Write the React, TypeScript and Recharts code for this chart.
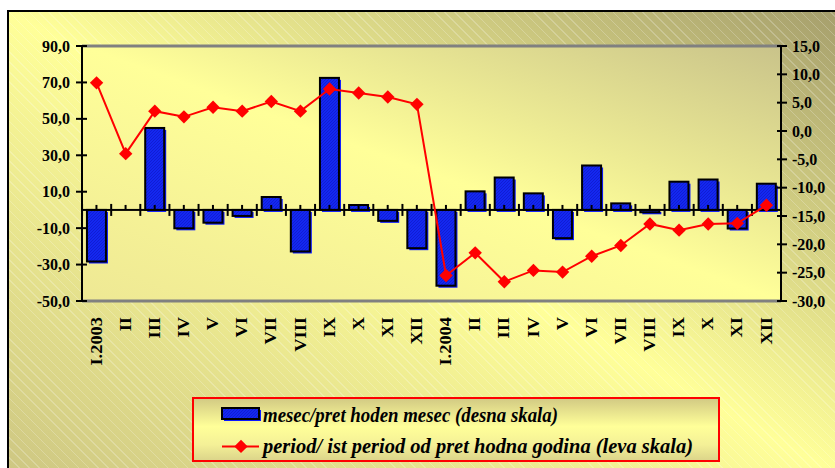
import {
  ComposedChart,
  Bar,
  Line,
  XAxis,
  YAxis,
  CartesianGrid,
  ReferenceLine,
} from "recharts";

/* ── data ── */
const months = [
  "I.2003", "II", "III", "IV", "V", "VI", "VII", "VIII", "IX", "X", "XI", "XII",
  "I.2004", "II", "III", "IV", "V", "VI", "VII", "VIII", "IX", "X", "XI", "XII",
];
// mesec / prethodni mesec
const monthOnMonth = [
  -28.3, 0, 45.0, -10.1, -7.0, -3.3, 7.1, -22.8, 72.5, 2.7, -6.0, -21.0,
  -41.6, 10.2, 17.8, 9.1, -15.5, 24.4, 3.6, -1.3, 15.5, 16.7, -10.2, 14.4,
];
// period / isti period prethodne godine
const periodOnPeriod = [
  8.5, -4.0, 3.5, 2.5, 4.2, 3.5, 5.2, 3.5, 7.4, 6.7, 6.0, 4.7,
  -25.5, -21.5, -26.6, -24.6, -24.9, -22.1, -20.2, -16.4, -17.5, -16.4, -16.3, -13.1,
];
const leftTicks = [-50, -30, -10, 10, 30, 50, 70, 90];
const rightTicks = [-30, -25, -20, -15, -10, -5, 0, 5, 10, 15];

const legendBars = "mesec/pret hoden mesec (desna skala)";
const legendLine = "period/ ist period od pret hodna godina (leva skala)";

const data = months.map((m, i) => ({
  label: m,
  mom: monthOnMonth[i],
  pop: periodOnPeriod[i],
}));

/* ── style ── */
const SERIF = "'Liberation Serif', 'Times New Roman', serif";
const GAP = 0.17;
const fmt = (v: number) => v.toFixed(1).replace(".", ",");

const BarShape = (p: any) => {
  const { x, y, width, height } = p;
  if (x == null || width == null) return null;
  const top = Math.min(y, y + height);
  const h = Math.abs(height || 0);
  const zeroY = y + (height || 0);
  const bandW = width / (1 - 2 * GAP);
  const bandX = x - GAP * bandW;
  const cx = x + width / 2;
  return (
    <g>
      {h > 0 && (
        <rect x={x + 2} y={top + 2} width={width} height={h} fill="#0a18ff" />
      )}
      {h > 0 && (
        <rect
          x={x}
          y={top}
          width={width}
          height={h}
          fill="url(#barFill)"
          stroke="#000"
          strokeWidth={2}
        />
      )}
      <line x1={bandX} x2={bandX + bandW} y1={zeroY} y2={zeroY} stroke="#000" strokeWidth={2} />
      <line x1={bandX} x2={bandX} y1={zeroY - 6} y2={zeroY + 6} stroke="#000" strokeWidth={2} />
      <line x1={cx} x2={cx} y1={zeroY - 5} y2={zeroY} stroke="#000" strokeWidth={2} />
    </g>
  );
};

const Diamond = (p: any) => {
  const { cx, cy } = p;
  if (cx == null || cy == null) return null;
  const r = 6.7;
  return (
    <path
      d={`M${cx},${cy - r} L${cx + r},${cy} L${cx},${cy + r} L${cx - r},${cy} Z`}
      fill="#ff0000"
    />
  );
};

const LeftTick = (p: any) => {
  const { x, y, payload } = p;
  const ax = x + 12;
  return (
    <g>
      <line x1={ax - 6} x2={ax + 5} y1={y} y2={y} stroke="#000" strokeWidth={2} />
      <text
        x={x}
        y={y}
        textAnchor="end"
        dominantBaseline="central"
        fontFamily={SERIF}
        fontWeight="bold"
        fontSize={16}
        fill="#000"
      >
        {fmt(payload.value)}
      </text>
    </g>
  );
};

const RightTick = (p: any) => {
  const { x, y, payload } = p;
  const ax = x - 11;
  return (
    <g>
      <line x1={ax - 4} x2={ax + 6} y1={y} y2={y} stroke="#000" strokeWidth={2} />
      <text
        x={x}
        y={y}
        textAnchor="start"
        dominantBaseline="central"
        fontFamily={SERIF}
        fontWeight="bold"
        fontSize={16}
        fill="#000"
      >
        {fmt(payload.value)}
      </text>
    </g>
  );
};

const MonthTick = (p: any) => {
  const { x, y, payload } = p;
  return (
    <text
      transform={`translate(${x},${y}) rotate(-90) scale(1.15,1)`}
      textAnchor="end"
      dominantBaseline="central"
      fontFamily={SERIF}
      fontWeight="bold"
      fontSize={16}
      fill="#000"
    >
      {payload.value}
    </text>
  );
};

const legendText = {
  fontFamily: SERIF,
  fontWeight: "bold" as const,
  fontStyle: "italic" as const,
  fontSize: 20,
};

export default function App() {
  return (
    <div
      style={{
        position: "absolute",
        left: 0,
        top: 0,
        width: 835,
        height: 468,
        overflow: "hidden",
        background: "#fff",
      }}
    >
      <div
        style={{
          position: "absolute",
          left: 7,
          top: 10,
          width: 840,
          height: 470,
          boxSizing: "border-box",
          border: "2px solid #000",
          background:
            "repeating-linear-gradient(45deg, rgba(255,255,255,0.22) 0px, rgba(255,255,255,0.22) 1px, transparent 1px, transparent 7px), linear-gradient(to bottom left, #A59E6C 0%, #FFFF99 50%, #CDC682 100%)",
        }}
      >
        <div style={{ position: "absolute", left: 0, top: 0 }}>
          <ComposedChart
            width={826}
            height={456}
            data={data}
            margin={{ top: 34, right: 0, bottom: 107, left: 0 }}
            barCategoryGap={`${GAP * 100}%`}
          >
            <defs>
              <linearGradient id="plotBg" x1="1" y1="0" x2="0" y2="1">
                <stop offset="0%" stopColor="#C9C38A" />
                <stop offset="50%" stopColor="#FFFF99" />
                <stop offset="100%" stopColor="#EEE894" />
              </linearGradient>
              <pattern id="barFill" width="3" height="3" patternUnits="userSpaceOnUse">
                <rect width="3" height="3" fill="#1428f0" />
                <path d="M0,3 L3,0" stroke="#0810b8" strokeWidth={0.8} strokeOpacity={0.6} />
              </pattern>
            </defs>
            <CartesianGrid horizontal={false} vertical={false} fill="url(#plotBg)" />
            <XAxis
              dataKey="label"
              interval={0}
              axisLine={false}
              tickLine={false}
              tickSize={6}
              tickMargin={10}
              height={60}
              tick={<MonthTick />}
            />
            <YAxis
              yAxisId="left"
              orientation="left"
              domain={[-50, 90]}
              ticks={leftTicks}
              interval={0}
              width={73}
              tickSize={6}
              tickMargin={6}
              tickLine={false}
              axisLine={{ stroke: "#000", strokeWidth: 2 }}
              tick={<LeftTick />}
            />
            <YAxis
              yAxisId="right"
              orientation="right"
              domain={[-30, 15]}
              ticks={rightTicks}
              interval={0}
              width={54}
              tickSize={6}
              tickMargin={5}
              tickLine={false}
              axisLine={{ stroke: "#000", strokeWidth: 2 }}
              tick={<RightTick />}
            />
            <ReferenceLine yAxisId="left" y={90} stroke="#808080" strokeWidth={3} />
            <ReferenceLine yAxisId="left" y={-50} stroke="#808080" strokeWidth={3} />
            <Bar
              yAxisId="left"
              dataKey="mom"
              shape={<BarShape />}
              isAnimationActive={false}
            />
            <Line
              yAxisId="right"
              dataKey="pop"
              stroke="#ff0000"
              strokeWidth={2}
              dot={<Diamond />}
              activeDot={false}
              isAnimationActive={false}
            />
          </ComposedChart>
        </div>

        {/* legend */}
        <div
          style={{
            position: "absolute",
            left: 182.7,
            top: 385.3,
            width: 528,
            height: 65,
            boxSizing: "border-box",
            border: "2px solid #ff0000",
            background: "linear-gradient(to bottom, #D3CB84 0%, #FFFF99 45%, #F4F097 75%, #DCD58A 100%)",
          }}
        >
          <svg width={524} height={61} style={{ display: "block" }}>
            <defs>
              <pattern id="legFill" width="3" height="3" patternUnits="userSpaceOnUse">
                <rect width="3" height="3" fill="#1428f0" />
                <path d="M0,3 L3,0" stroke="#0810b8" strokeWidth={0.8} strokeOpacity={0.6} />
              </pattern>
            </defs>
            <rect x={30} y={11} width={37} height={11} fill="#0a18ff" />
            <rect x={28} y={9} width={37} height={11} fill="url(#legFill)" stroke="#000" strokeWidth={2} />
            <text
              x={69}
              y={15.7}
              dominantBaseline="central"
              textLength={295}
              lengthAdjust="spacingAndGlyphs"
              style={legendText}
            >
              {legendBars}
            </text>
            <line x1={28} x2={65} y1={47.4} y2={47.4} stroke="#ff0000" strokeWidth={2} />
            <Diamond cx={47} cy={47.4} />
            <text
              x={69}
              y={47.4}
              dominantBaseline="central"
              textLength={430}
              lengthAdjust="spacingAndGlyphs"
              style={legendText}
            >
              {legendLine}
            </text>
          </svg>
        </div>
      </div>
    </div>
  );
}
